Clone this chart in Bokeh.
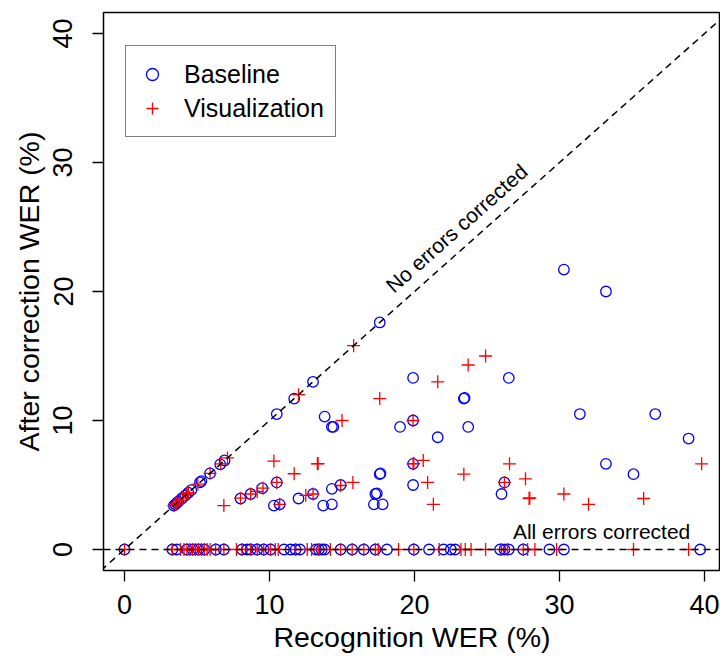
import math
from bokeh.plotting import figure
from bokeh.models import Span, Slope, Legend, LegendItem, FixedTicker, Label
from bokeh.embed import file_html
from bokeh.resources import INLINE

# ---- data ----
baseline_x = [0,
              3.4, 3.5, 3.6, 3.7, 3.9, 4.0, 4.2, 4.4, 4.6, 5.2, 5.3, 5.9, 6.6, 6.9, 10.5, 11.7, 13.0, 17.6,
              8.0, 8.7, 9.5, 10.5, 10.3, 10.7, 12.0, 13.0, 13.7, 14.3, 14.3, 14.9, 13.8, 14.3, 14.4,
              17.2, 17.8, 17.3, 17.4, 17.6, 17.65, 19.0, 19.9, 19.9, 19.9, 19.9, 21.6, 23.4, 23.45,
              23.7, 26.5, 26.2, 26.0, 30.3, 33.2, 31.4, 36.6, 38.9, 33.2, 35.1,
              3.3, 3.6, 4.3, 4.7, 5.1, 5.5, 6.3, 6.85, 8.1, 8.46, 8.7, 9.15, 9.6, 10.07, 11.0, 11.45,
              11.8, 12.1, 13.2, 13.4, 13.6, 13.8, 14.9, 15.7, 16.5, 17.3, 18.1, 19.95, 21.0, 22.0,
              22.5, 22.8, 25.9, 26.2, 26.5, 27.5, 29.3, 30.3, 39.7]
baseline_y = [0,
              3.4, 3.5, 3.6, 3.7, 3.9, 4.0, 4.2, 4.4, 4.6, 5.2, 5.3, 5.9, 6.6, 6.9, 10.5, 11.7, 13.0, 17.6,
              3.95, 4.3, 4.75, 5.2, 3.4, 3.5, 3.95, 4.3, 3.4, 3.5, 4.7, 5.0, 10.3, 9.5, 9.5,
              3.5, 3.5, 4.3, 4.35, 5.84, 5.9, 9.5, 13.3, 10.0, 6.64, 5.0, 8.7, 11.7, 11.75,
              9.5, 13.3, 5.2, 4.3, 21.7, 20.0, 10.5, 10.5, 8.6, 6.64, 5.84,
              0, 0, 0, 0, 0, 0, 0, 0, 0, 0, 0, 0, 0, 0, 0, 0,
              0, 0, 0, 0, 0, 0, 0, 0, 0, 0, 0, 0, 0, 0,
              0, 0, 0, 0, 0, 0, 0, 0, 0]

vis_x = [0,
         3.4, 3.5, 3.6, 3.8, 4.0, 4.3, 4.4, 5.06, 5.9, 6.64, 7.1, 12.0, 15.8,
         6.85, 8.0, 8.7, 9.15, 9.55, 10.3, 10.5, 10.7, 11.7, 12.5, 13.0, 13.3, 13.35, 14.9, 15.0,
         15.75, 17.6, 19.9, 19.9, 19.95, 20.6, 20.9, 21.3, 21.6, 23.4, 23.7, 24.9, 26.2, 26.55,
         27.65, 27.9, 27.95, 30.3, 32.0, 35.8, 39.8,
         3.29, 3.86, 4.1, 4.3, 4.5, 4.7, 4.9, 5.1, 5.3, 5.5, 5.7, 5.9, 6.28, 6.85, 7.72, 8.1,
         8.7, 9.15, 9.6, 10.07, 10.4, 10.6, 11.8, 12.6, 12.9, 13.4, 14.2, 14.9, 15.7, 16.5,
         17.3, 17.5, 18.9, 19.95, 21.7, 23.2, 23.5, 23.9, 24.9, 26.0, 26.4, 27.5, 27.8, 28.3,
         29.8, 35.1, 38.9]
vis_y = [0,
         3.4, 3.5, 3.6, 3.8, 4.0, 4.3, 4.4, 5.06, 5.9, 6.64, 7.1, 12.0, 15.8,
         3.4, 3.98, 4.3, 4.5, 4.75, 6.85, 5.2, 3.5, 5.87, 4.2, 4.3, 6.64, 6.66, 4.96, 10.0,
         5.2, 11.7, 10.0, 6.64, 6.66, 6.9, 5.2, 3.5, 13.0, 5.84, 14.3, 15.0, 5.2, 6.64,
         5.48, 3.95, 4.0, 4.3, 3.5, 3.95, 6.64,
         0, 0, 0, 0, 0, 0, 0, 0, 0, 0, 0, 0, 0, 0, 0, 0,
         0, 0, 0, 0, 0, 0, 0, 0, 0, 0, 0, 0, 0, 0,
         0, 0, 0, 0, 0, 0, 0, 0, 0, 0, 0, 0, 0, 0,
         0, 0, 0]

ticks = [0, 10, 20, 30, 40]
series_names = ["Baseline", "Visualization"]
x_title = "Recognition WER (%)"
y_title = "After correction WER (%)"
diag_label = "No errors corrected"
zero_label = "All errors corrected"

FONT = "Liberation Sans"

p = figure(width=720, height=656, output_backend="svg", toolbar_location=None,
           x_range=(-1.45, 41.1), y_range=(-1.63, 41.63),
           min_border_left=103, min_border_right=0, min_border_top=12, min_border_bottom=86)
p.background_fill_color = "white"
p.border_fill_color = "white"
p.grid.visible = False
p.outline_line_color = "black"
p.outline_line_width = 1.5

for ax in (p.xaxis[0], p.yaxis[0]):
    ax.ticker = FixedTicker(ticks=ticks)
    ax.minor_tick_line_color = None
    ax.major_tick_in = 0
    ax.major_tick_out = 11
    ax.major_tick_line_width = 1.3
    ax.axis_line_color = None
    ax.major_label_text_font = FONT
    ax.major_label_text_font_size = "27px"
    ax.major_label_text_color = "black"
    ax.axis_label_text_font = FONT
    ax.axis_label_text_font_size = "28.5px"
    ax.axis_label_text_font_style = "normal"
    ax.axis_label_text_color = "black"

p.xaxis.axis_label = x_title
p.yaxis.axis_label = y_title
p.xaxis.major_label_standoff = 13
p.xaxis.axis_label_standoff = 4
p.yaxis.major_label_orientation = "parallel"
p.yaxis.major_label_standoff = 20
p.yaxis.axis_label_standoff = 6

# reference lines
p.add_layout(Span(location=0, dimension="width", line_color="black",
                  line_dash="7 5", line_width=1.5))
p.add_layout(Slope(gradient=1, y_intercept=0, line_color="black",
                   line_dash="7 5", line_width=1.5))

r_base = p.scatter(baseline_x, baseline_y, marker="circle", size=10.5,
                   fill_color=None, line_color="#0000ff", line_width=1.3)
r_vis = p.scatter(vis_x, vis_y, marker="cross", size=13,
                  line_color="#ff0000", line_width=1.3)

p.add_layout(Label(x=22.9, y=24.9, text=diag_label, angle=math.atan(12.9 / 14.5),
                   text_align="center", text_baseline="middle",
                   text_font=FONT, text_font_size="21px", text_color="black"))
p.add_layout(Label(x=32.9, y=1.4, text=zero_label,
                   text_align="center", text_baseline="middle",
                   text_font=FONT, text_font_size="21px", text_color="black"))

legend = Legend(items=[LegendItem(label=series_names[0], renderers=[r_base]),
                       LegendItem(label=series_names[1], renderers=[r_vis])],
                location=(22, 433))
legend.label_text_font = FONT
legend.label_text_font_size = "25px"
legend.label_text_color = "black"
legend.border_line_color = "black"
legend.border_line_width = 1.2
legend.background_fill_alpha = 1
legend.padding = 11
legend.spacing = 0
legend.glyph_width = 30
legend.glyph_height = 34
legend.label_height = 34
legend.label_standoff = 17
legend.margin = 0
p.add_layout(legend)

open("out.html", "w").write(file_html(p, INLINE))
